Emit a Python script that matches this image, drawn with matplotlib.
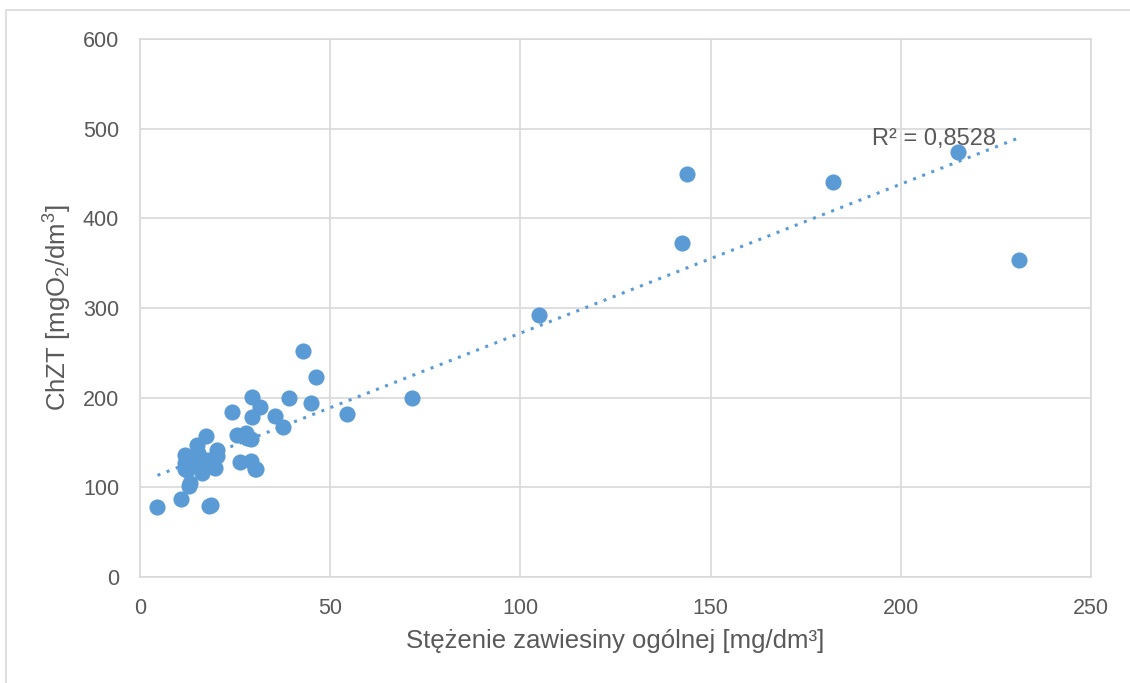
import numpy as np
import matplotlib
matplotlib.use('Agg')
import matplotlib.pyplot as plt
from matplotlib.patches import Rectangle

plt.rcParams['font.family'] = ['Liberation Sans', 'DejaVu Sans']
plt.rcParams['mathtext.fontset'] = 'custom'
plt.rcParams['mathtext.rm'] = 'Liberation Sans'
plt.rcParams['mathtext.it'] = 'Liberation Sans'
plt.rcParams['mathtext.default'] = 'regular'

# Suspended solids concentration [mg/dm3]
zawiesina = [4.6, 10.9, 13.0, 13.1, 11.8, 11.8, 11.8, 12.3, 14.9, 15.3, 15.3, 16.2,
             17.3, 18.0, 18.2, 18.7, 19.7, 20.2, 20.3, 24.1, 25.4, 26.3, 27.9, 28.0,
             29.1, 29.2, 29.5, 29.5, 30.2, 30.5, 31.5, 35.5, 37.7, 39.2, 42.9, 44.9,
             46.3, 54.5, 71.5, 105.0, 142.5, 143.8, 182.3, 215.0, 231.0]
# COD [mgO2/dm3]
chzt = [78.4, 87.0, 101.5, 104.5, 136.0, 126.8, 121.0, 119.3, 147.2, 138.0, 128.6, 115.6,
        157.0, 130.5, 79.2, 80.6, 121.5, 141.6, 135.0, 184.0, 158.5, 128.0, 160.2, 154.7,
        153.5, 129.4, 200.4, 178.1, 121.0, 120.8, 190.0, 179.5, 167.6, 200.0, 252.4, 194.4,
        222.7, 181.4, 200.0, 292.0, 372.0, 450.0, 441.0, 474.0, 354.0]

r2_label = 'R² = 0,8528'

blue = '#5B9BD5'
grid_c = '#D9D9D9'
text_c = '#595959'

fig = plt.figure(figsize=(11.3, 6.83), dpi=100)
ax = fig.add_axes([140 / 1130, 1 - 577 / 683, 951 / 1130, 538 / 683])

# outer chart border
fig.patches.append(Rectangle((6 / 1130, -0.1), 1.2, 1 - 10 / 683 + 0.1,
                             transform=fig.transFigure, fill=False,
                             edgecolor=grid_c, linewidth=1.2))

x = np.array(zawiesina)
y = np.array(chzt)
ax.scatter(x, y, s=135, color=blue, zorder=3, linewidths=0)

# linear trend line
a, b = np.polyfit(x, y, 1)
xt = np.array([x.min(), x.max()])
ax.plot(xt, a * xt + b, linestyle=(0, (1, 2.2)), color=blue, linewidth=2.2, zorder=2)
ax.text(192.3, 489, r2_label, fontsize=17, color=text_c, va='center', ha='left')

ax.set_xlim(0, 250)
ax.set_ylim(0, 600)
ax.set_xticks(range(0, 251, 50))
ax.set_yticks(range(0, 601, 100))
ax.grid(True, color=grid_c, linewidth=1.2)
ax.set_axisbelow(True)
for s in ax.spines.values():
    s.set_color(grid_c)
    s.set_linewidth(1.2)
ax.tick_params(length=0, labelsize=15.5, labelcolor=text_c, pad=15)

ax.set_xlabel('Stężenie zawiesiny ogólnej [mg/dm³]', fontsize=18.5, color=text_c, va='center')
ax.set_ylabel('ChZT [mgO$_2$/dm$^3$]', fontsize=18.5, color=text_c, va='center')
ax.xaxis.set_label_coords(0.5, (577 - 641) / 538)
ax.yaxis.set_label_coords((58 - 140) / 951, 0.5)

fig.savefig('out.png', dpi=100)
